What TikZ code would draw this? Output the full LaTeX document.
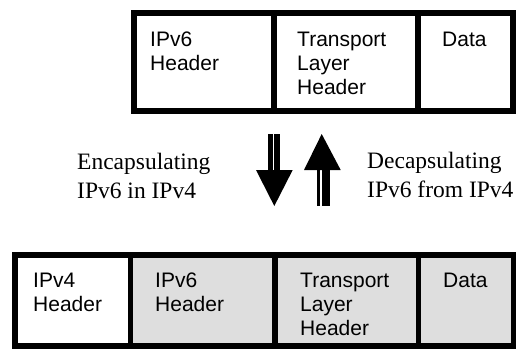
\documentclass[tikz,border=0pt]{standalone}
\usepackage{fontspec}
\setmainfont{Liberation Serif}
\newfontfamily\sansf{Liberation Sans}
\begin{document}
\begin{tikzpicture}[x=1pt,y=1pt,
  cell/.style={draw=black,line width=5.5pt,rectangle,inner sep=0pt,outer sep=0pt,minimum height=#1},
  cell/.default=98pt,
  shaded/.style={fill=black!13},
  celltext/.style={anchor=north west,inner sep=0pt,align=left,font=\sansf\fontsize{21}{24}\selectfont},
  sidetext/.style={anchor=north west,inner sep=0pt,align=left,font=\fontsize{23.5}{29}\selectfont},
  arrowfill/.style={fill=black,draw=none}]
\useasboundingbox (0,0) rectangle (516,349);
% top packet
\node[cell,minimum width=140pt] (t1) at (204,287) {};
\node[cell,minimum width=144pt] (t2) at (346,287) {};
\node[cell,minimum width=95pt] (t3) at (465.5,287) {};
\node[celltext] (t1txt) at (150,317) {IPv6\\Header};
\node[celltext] (t2txt) at (297,317) {Transport\\Layer\\Header};
\node[celltext] (t3txt) at (442,317) {Data};
% bottom packet
\node[cell=91pt,minimum width=115.5pt] (b1) at (72.75,48.5) {};
\node[cell=91pt,shaded,minimum width=144.5pt] (b2) at (202.75,48.5) {};
\node[cell=91pt,shaded,minimum width=143.5pt] (b3) at (346.75,48.5) {};
\node[cell=91pt,shaded,minimum width=95.5pt] (b4) at (466.25,48.5) {};
\node[celltext] (b1txt) at (33,76.5) {IPv4\\Header};
\node[celltext] (b2txt) at (155,76.5) {IPv6\\Header};
\node[celltext] (b3txt) at (300,76.5) {Transport\\Layer\\Header};
\node[celltext] (b4txt) at (443,76.5) {Data};
% labels
\node[sidetext] (enc) at (77,196) {Encapsulating\\IPv6 in IPv4};
\node[sidetext] (dec) at (367,197) {Decapsulating\\IPv6 from IPv4};
% down arrow
\fill[arrowfill] (268.3,215) rectangle (272.7,178);
\fill[arrowfill] (274,215) rectangle (280,178);
\fill[arrowfill] (256,179) -- (292.7,179) -- (274.3,143) -- cycle;
% up arrow
\fill[arrowfill] (316.7,143) rectangle (320,180);
\fill[arrowfill] (321.5,143) rectangle (330,180);
\fill[arrowfill] (304,179) -- (340.7,179) -- (321.7,215) -- cycle;
\end{tikzpicture}
\end{document}
